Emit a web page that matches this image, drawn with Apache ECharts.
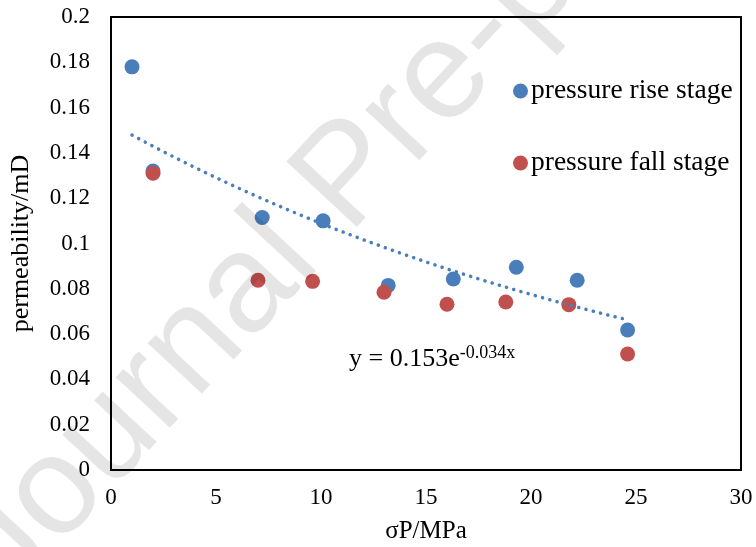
<!DOCTYPE html>
<html>
<head>
<meta charset="utf-8">
<script src="https://cdn.jsdelivr.net/npm/echarts@6/dist/echarts.min.js"></script>
<style>
  html, body { margin: 0; padding: 0; background: #fff; }
  #chart { width: 756px; height: 547px; }
</style>
</head>
<body>
<div id="chart"></div>
<script>
// Effective stress (MPa) and permeability (mD) during loading
const riseStress = [1.0, 2.0, 7.2, 10.1, 13.2, 16.3, 19.3, 22.2, 24.6];
const risePerm   = [0.178, 0.132, 0.1115, 0.110, 0.0815, 0.0843, 0.0895, 0.0838, 0.0618];

// Effective stress (MPa) and permeability (mD) during unloading
const fallStress = [2.0, 7.0, 9.6, 13.0, 16.0, 18.8, 21.8, 24.6];
const fallPerm   = [0.131, 0.0838, 0.0833, 0.0785, 0.0732, 0.0742, 0.0730, 0.0512];

// Exponential fit of the loading branch: y = A * exp(B * x)
const fitA = 0.153;
const fitB = -0.034;

const xTicks = [0, 5, 10, 15, 20, 25, 30];
const yTicks = [0, 0.02, 0.04, 0.06, 0.08, 0.1, 0.12, 0.14, 0.16, 0.18, 0.2];

const serif = '"Liberation Serif", "Times New Roman", serif';
const blue = '#4a7ebb';
const red = '#c0504d';

const toPairs = (xs, ys) => xs.map((x, i) => [x, ys[i]]);

// Fitted curve sampled across the loading stress range
const fitStart = Math.min(...riseStress);
const fitEnd = Math.max(...riseStress);
const fitSteps = 60;
const fitCurve = [];
for (let i = 0; i <= fitSteps; i++) {
  const x = fitStart + (fitEnd - fitStart) * i / fitSteps;
  fitCurve.push([x, fitA * Math.exp(fitB * x)]);
}

const chart = echarts.init(document.getElementById('chart'), null, { renderer: 'canvas' });

chart.setOption({
  animation: false,
  backgroundColor: '#fff',
  grid: {
    left: 111, right: 15, top: 17, bottom: 77,
    outerBoundsMode: 'none', containLabel: false,
    show: true, borderColor: '#000', borderWidth: 2, backgroundColor: 'transparent'
  },
  xAxis: {
    type: 'value', min: xTicks[0], max: xTicks[xTicks.length - 1], interval: 5,
    name: 'σP/MPa', nameLocation: 'middle', nameGap: 49,
    nameTextStyle: { fontFamily: serif, fontSize: 25, color: '#000' },
    axisLine: { show: false }, axisTick: { show: false }, splitLine: { show: false },
    axisLabel: { fontFamily: serif, fontSize: 23, color: '#000', margin: 16 }
  },
  yAxis: {
    type: 'value', min: yTicks[0], max: yTicks[yTicks.length - 1], interval: 0.02,
    name: 'permeability/mD', nameLocation: 'middle', nameGap: 77, nameRotate: 90,
    nameTextStyle: { fontFamily: serif, fontSize: 26, color: '#000' },
    axisLine: { show: false }, axisTick: { show: false }, splitLine: { show: false },
    axisLabel: {
      fontFamily: serif, fontSize: 23, color: '#000', margin: 21,
      formatter: v => String(Math.round(v * 100) / 100)
    }
  },
  legend: {
    orient: 'vertical', left: 508, top: 72, itemGap: 44,
    itemWidth: 15, itemHeight: 15, icon: 'circle',
    textStyle: { fontFamily: serif, fontSize: 27.5, color: '#000', padding: [0, 0, 0, -2] },
    data: ['pressure rise stage', 'pressure fall stage']
  },
  series: [
    {
      name: 'pressure rise stage', type: 'scatter', symbol: 'circle', symbolSize: 15,
      itemStyle: { color: blue, opacity: 1 }, z: 3,
      data: toPairs(riseStress, risePerm)
    },
    {
      name: 'pressure fall stage', type: 'scatter', symbol: 'circle', symbolSize: 15,
      itemStyle: { color: red, opacity: 1 }, z: 4,
      data: toPairs(fallStress, fallPerm)
    },
    {
      name: 'fit', type: 'line', showSymbol: false, smooth: false, z: 5,
      lineStyle: { color: blue, width: 3.5, type: [0.1, 7.4], cap: 'round' },
      data: fitCurve, silent: true
    }
  ],
  graphic: [
    {
      type: 'text', left: 349, top: 344, z: 10,
      style: {
        text: '{b|y = ' + fitA + 'e}{s|' + fitB + 'x}',
        rich: {
          b: { fontFamily: serif, fontSize: 26, fill: '#000' },
          s: { fontFamily: serif, fontSize: 18, fill: '#000', verticalAlign: 'top', padding: [0, 0, 12, 0] }
        }
      }
    },
    {
      type: 'text', x: 350, y: 178, rotation: 47 * Math.PI / 180, z: 100, silent: true,
      style: {
        text: 'Journal Pre-proof', fontFamily: '"Liberation Sans", Arial, sans-serif',
        fontSize: 140, fill: 'rgba(0,0,0,0.1)', align: 'center', verticalAlign: 'middle'
      }
    }
  ]
});
</script>
</body>
</html>
